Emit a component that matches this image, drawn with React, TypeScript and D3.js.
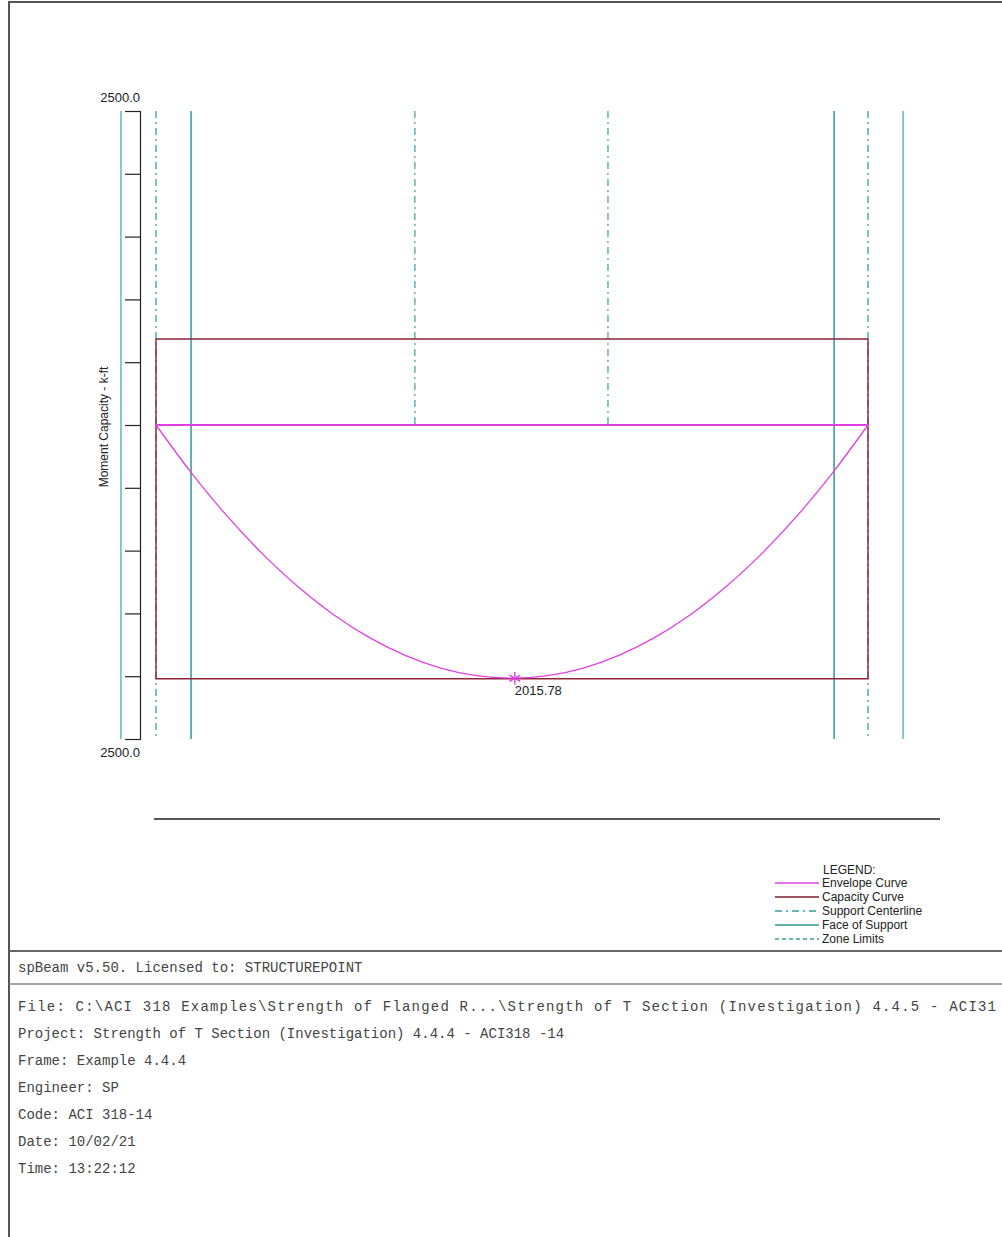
import React, { useEffect, useRef } from 'react';
import * as d3 from 'd3';

// span stations in ft, moments in k-ft (negative = top)
const spanEnds = [0, 25];
const envStations = [0, 1.25, 2.5, 3.75, 5, 6.25, 7.5, 8.75, 10, 11.25, 12.5, 13.75, 15, 16.25, 17.5, 18.75, 20, 21.25, 22.5, 23.75, 25];
const envPositive = [0, 383, 726, 1028, 1290, 1512, 1693, 1834, 1935, 1996, 2016, 1996, 1935, 1834, 1693, 1512, 1290, 1028, 726, 383, 0];
const envNegative = [0, 0];
const capNegative = [-685, -685];
const capPositive = [2020, 2020];
const supportCenterlines = [0, 25];
const faceOfSupport = [1.23, 23.81];
const outerFaces = [-1.23, 26.23];
const zoneLimits = [9.09, 15.87];
const yTicks = [-2500, -2000, -1500, -1000, -500, 0, 500, 1000, 1500, 2000, 2500];
const peak = { x: 12.6, m: 2015.78, label: '2015.78' };

const legendItems = [
  { label: 'Envelope Curve', color: '#e040e0', dash: '' },
  { label: 'Capacity Curve', color: '#7a1f2b', dash: '' },
  { label: 'Support Centerline', color: '#3a9e9e', dash: '7,4,2,4' },
  { label: 'Face of Support', color: '#2a9a9a', dash: '' },
  { label: 'Zone Limits', color: '#3a9e9e', dash: '4,3' },
];

const footerTop = 'spBeam v5.50. Licensed to: STRUCTUREPOINT';
const fileLine = 'File: C:\\ACI 318 Examples\\Strength of Flanged R...\\Strength of T Section (Investigation) 4.4.5 - ACI31';
const footerLines = [
  'Project: Strength of T Section (Investigation) 4.4.4 - ACI318 -14',
  'Frame: Example 4.4.4',
  'Engineer: SP',
  'Code: ACI 318-14',
  'Date: 10/02/21',
  'Time: 13:22:12',
];

const W = 1002;
const H = 1237;

export default function App() {
  const ref = useRef<SVGSVGElement>(null);

  useEffect(() => {
    if (!ref.current) return;
    const svg = d3.select(ref.current);
    svg.selectAll('*').remove();

    const x = d3.scaleLinear().domain(spanEnds).range([156, 868]);
    const y = d3.scaleLinear().domain([-2500, 2500]).range([111, 739]);
    const teal = '#2a9a9a';
    const magenta = '#e040e0';
    const capColor = '#8e2436';
    const sans = 'Liberation Sans, Arial, sans-serif';

    // page frame
    svg.append('path')
      .attr('d', `M9,${H} L9,2 L${W},2`)
      .attr('fill', 'none').attr('stroke', '#555').attr('stroke-width', 2);
    svg.append('line').attr('x1', 9).attr('x2', W).attr('y1', 951).attr('y2', 951)
      .attr('stroke', '#666').attr('stroke-width', 2);
    svg.append('line').attr('x1', 9).attr('x2', W).attr('y1', 984).attr('y2', 984)
      .attr('stroke', '#888').attr('stroke-width', 1.5);

    const vline = (xs: number[], y0: number, y1: number, color: string, dash: string, w = 1.3) => {
      svg.append('g').selectAll('line').data(xs).enter().append('line')
        .attr('x1', d => x(d)).attr('x2', d => x(d))
        .attr('y1', y(y0)).attr('y2', y(y1))
        .attr('stroke', color).attr('stroke-width', w)
        .attr('stroke-dasharray', dash);
    };

    vline(outerFaces, -2500, 2500, '#4aaab4', '', 1.3);
    vline(faceOfSupport, -2500, 2500, teal, '', 1.5);
    vline(supportCenterlines, -2500, 2500, '#3a9e9e', '7,4,2,4', 1.3);
    vline(zoneLimits, -2500, 0, '#3a9e9e', '7,4,2,4', 1.2);

    // y axis bracket
    const axis = d3.axisLeft(y).tickValues(yTicks).tickSize(15).tickSizeOuter(15).tickFormat(() => '');
    const ag = svg.append('g').attr('transform', 'translate(140,0)').call(axis);
    ag.selectAll('path, line').attr('stroke', '#222').attr('stroke-width', 1.2);

    svg.append('text').attr('x', 140).attr('y', 102).attr('text-anchor', 'end')
      .attr('font-family', sans).attr('font-size', 13).attr('fill', '#222')
      .text('2500.0');
    svg.append('text').attr('x', 140).attr('y', 757).attr('text-anchor', 'end')
      .attr('font-family', sans).attr('font-size', 13).attr('fill', '#222')
      .text('2500.0');
    svg.append('text')
      .attr('transform', `translate(108,${y(0) + 2}) rotate(-90)`)
      .attr('text-anchor', 'middle')
      .attr('font-family', sans).attr('font-size', 12).attr('fill', '#222')
      .text('Moment Capacity - k-ft');

    // capacity curve
    const capLine = d3.line<[number, number]>().x(d => x(d[0])).y(d => y(d[1]));
    const capPts: [number, number][] = [
      [spanEnds[0], capNegative[0]], [spanEnds[1], capNegative[1]],
      [spanEnds[1], capPositive[1]], [spanEnds[0], capPositive[0]],
    ];
    svg.append('path').attr('d', capLine(capPts) + 'Z')
      .attr('fill', 'none').attr('stroke', capColor).attr('stroke-width', 1.4);

    // envelope
    svg.append('path')
      .attr('d', capLine(spanEnds.map((s, i) => [s, envNegative[i]] as [number, number])))
      .attr('fill', 'none').attr('stroke', magenta).attr('stroke-width', 2);
    const envLine = d3.line<[number, number]>().x(d => x(d[0])).y(d => y(d[1])).curve(d3.curveCatmullRom);
    svg.append('path')
      .attr('d', envLine(envStations.map((s, i) => [s, envPositive[i]] as [number, number])))
      .attr('fill', 'none').attr('stroke', magenta).attr('stroke-width', 1.3);

    // peak marker
    svg.append('path')
      .attr('transform', `translate(${x(peak.x)},${y(peak.m)})`)
      .attr('d', d3.symbol(d3.symbolAsterisk, 110)())
      .attr('fill', 'none').attr('stroke', magenta).attr('stroke-width', 1.4);
    svg.append('text').attr('x', x(peak.x)).attr('y', y(peak.m) + 17)
      .attr('font-family', sans).attr('font-size', 13).attr('fill', '#222')
      .text(peak.label);

    // beam line
    svg.append('line').attr('x1', 154).attr('x2', 940).attr('y1', 819).attr('y2', 819)
      .attr('stroke', '#555').attr('stroke-width', 2);

    // legend
    const lg = svg.append('g').attr('font-family', sans).attr('font-size', 12).attr('fill', '#222');
    lg.append('text').attr('x', 823).attr('y', 874).text('LEGEND:');
    legendItems.forEach((it, i) => {
      const cy = 883 + i * 14;
      lg.append('line').attr('x1', 775).attr('x2', 819).attr('y1', cy).attr('y2', cy)
        .attr('stroke', it.color).attr('stroke-width', 1.3).attr('stroke-dasharray', it.dash);
      lg.append('text').attr('x', 822).attr('y', cy + 4).text(it.label);
    });

    // footer
    const fg = svg.append('g').attr('font-family', 'Liberation Mono, Courier New, monospace')
      .attr('font-size', 14).attr('fill', '#444');
    fg.append('text').attr('x', 18).attr('y', 972).text(footerTop);
    fg.append('text').attr('x', 18).attr('y', 1011)
      .attr('textLength', 978).attr('lengthAdjust', 'spacing')
      .text(fileLine);
    footerLines.forEach((t, i) => {
      fg.append('text').attr('x', 18).attr('y', 1038 + i * 27).text(t);
    });
  }, []);

  return (
    <div style={{ position: 'absolute', left: 0, top: 0, width: W, height: H, background: '#fff' }}>
      <svg ref={ref} width={W} height={H} style={{ display: 'block' }} />
    </div>
  );
}
